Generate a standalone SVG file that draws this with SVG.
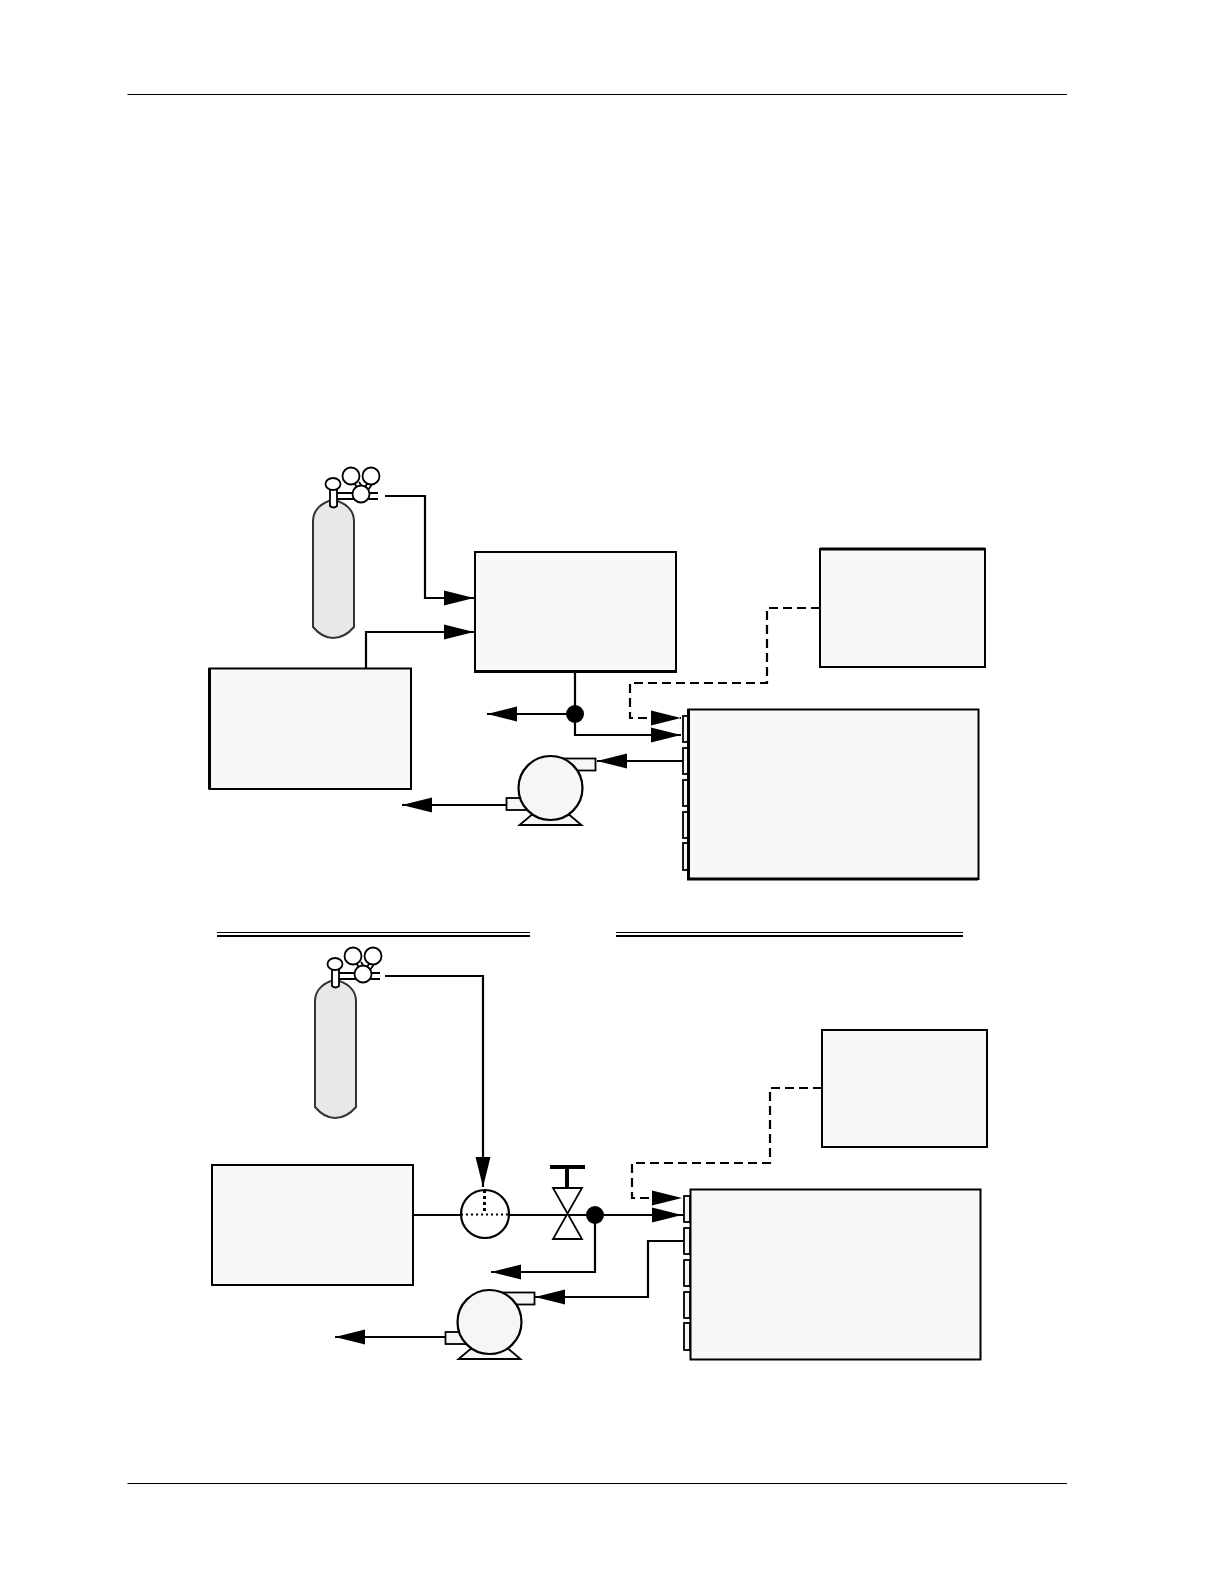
<svg xmlns="http://www.w3.org/2000/svg" xmlns:xlink="http://www.w3.org/1999/xlink" width="1224" height="1584" viewBox="0 0 1224 1584">
<style>
.box{fill:#f8f8f8;stroke:#000;stroke-width:2}
.thin{fill:#f6f6f6;stroke:#000;stroke-width:1.8}
.line{fill:none;stroke:#000;stroke-width:2.2}
.arr{marker-end:url(#arrow)}
.dash{fill:none;stroke:#000;stroke-width:2.2;stroke-dasharray:9 5}
.w{fill:#fff;stroke:#000;stroke-width:1.8}
.edge{fill:none;stroke:#000;stroke-width:3}
</style>
<defs>
<marker id="arrow" markerUnits="userSpaceOnUse" markerWidth="31" markerHeight="16" refX="30" refY="7.500" orient="auto" overflow="visible"><polygon points="0,0 30,7.500 0,15" fill="#000"/></marker>
<g id="cyl">
<path d="M313 521C313 510 322 502 333 500C345 502 354 510 354 521V627C348 634 341 638 333 638C325 638 319 634 313 627Z" fill="#e8e8e8" stroke="#333" stroke-width="2"/>
<path d="M337 493H378M337 499H378" fill="none" stroke="#000" stroke-width="1.800"/>
<path d="M330 506V485H337V506Q333.500 509 330 506Z" class="w"/>
<ellipse cx="333" cy="484" rx="7.500" ry="6" class="w"/>
<path d="M354 482L358 490M359 482L363 488M368 482L364 489M373 483L368 490" fill="none" stroke="#000" stroke-width="1.800"/>
<circle cx="351" cy="476" r="8.500" class="w"/>
<circle cx="371" cy="476" r="8.500" class="w"/>
<circle cx="361" cy="494" r="8.500" class="w"/>
</g>
<g id="pump">
<rect x="12" y="-29.500" width="33" height="12" class="thin"/>
<rect x="-44" y="10" width="20" height="12" class="thin"/>
<path d="M-19 27L-31 37H31L19 27Z" class="thin"/>
<circle r="32" class="thin" style="stroke-width:2.200"/>
</g>
<g id="ports">
<rect x="0" y="0" width="6" height="26" class="thin"/>
<rect x="0" y="32" width="6" height="26" class="thin"/>
<rect x="0" y="64" width="6" height="26" class="thin"/>
<rect x="0" y="96" width="6" height="26" class="thin"/>
<rect x="0" y="127" width="6" height="27" class="thin"/>
</g>
</defs>
<g id="page-rules">
<path d="M127.500 94.500H1067M127.500 1483.500H1067" stroke="#000" stroke-width="1"/>
</g>
<g id="connectors">
<path class="line arr" d="M385 496H425V598H474"/>
<path class="line arr" d="M366 668V632H474"/>
<path class="line arr" d="M575 672V735H681"/>
<path class="line arr" d="M575 714H487"/>
<path class="dash arr" d="M820 608H767V683H630V718H681"/>
<path class="line arr" d="M683 761H597"/>
<path class="line arr" d="M506 805H402"/>
<path class="line arr" d="M385 976H483V1187"/>
<path class="line" d="M413 1215H461M509 1215H684"/>
<path class="line arr" d="M640 1215H682"/>
<path class="line arr" d="M595 1215V1272H491"/>
<path class="line arr" d="M684 1241H648V1297H535"/>
<path class="line arr" d="M445 1337H335"/>
<path class="dash arr" d="M822 1088H770V1163H632V1198H682"/>
<path d="M217 932.500H530M616 932.500H963" stroke="#000" stroke-width="1"/>
<path d="M217 936H530M616 936H963" stroke="#000" stroke-width="2"/>
</g>
<g id="cylinder-1"><use xlink:href="#cyl"/></g>
<g id="box-a"><rect x="475" y="552" width="201" height="120" class="box"/><path class="edge" d="M475 671.500H676"/></g>
<g id="box-b"><rect x="209.500" y="668.500" width="201.500" height="120.500" class="box"/><path class="edge" d="M209.500 668V789"/></g>
<g id="box-c"><rect x="820" y="549" width="165" height="118" class="box"/><path class="edge" d="M820 549H985"/></g>
<g id="analyzer-1"><use xlink:href="#ports" x="683" y="716"/><rect x="688.500" y="709.500" width="290" height="169.500" class="box"/><path class="edge" d="M688.500 709V879H978"/></g>
<g id="junction-1"><circle cx="575" cy="714" r="9"/></g>
<g id="pump-1"><use xlink:href="#pump" x="550.500" y="788"/></g>
<g id="cylinder-2"><use xlink:href="#cyl" x="2" y="480"/></g>
<g id="box-d"><rect x="212" y="1165" width="201" height="120" class="box"/></g>
<g id="box-e"><rect x="822" y="1030" width="165" height="117" class="box"/></g>
<g id="analyzer-2"><use xlink:href="#ports" x="684" y="1196"/><rect x="690.500" y="1189.500" width="290" height="170" class="box"/></g>
<g id="mixer"><circle cx="485" cy="1214" r="24" fill="#fff" stroke="#000" stroke-width="2.200"/><path d="M484.500 1190V1214" fill="none" stroke="#000" stroke-width="3" stroke-dasharray="3 3"/><path d="M461 1214.500H509" fill="none" stroke="#000" stroke-width="2" stroke-dasharray="2 3"/></g>
<g id="valve"><path d="M553 1188H582L553 1239H582Z" fill="#fff" stroke="#000" stroke-width="1.800"/><path d="M567 1188V1167M550 1167H585" stroke="#000" stroke-width="4" fill="none"/></g>
<g id="junction-2"><circle cx="595" cy="1215" r="9"/></g>
<g id="pump-2"><use xlink:href="#pump" x="489.500" y="1322"/></g>
</svg>
